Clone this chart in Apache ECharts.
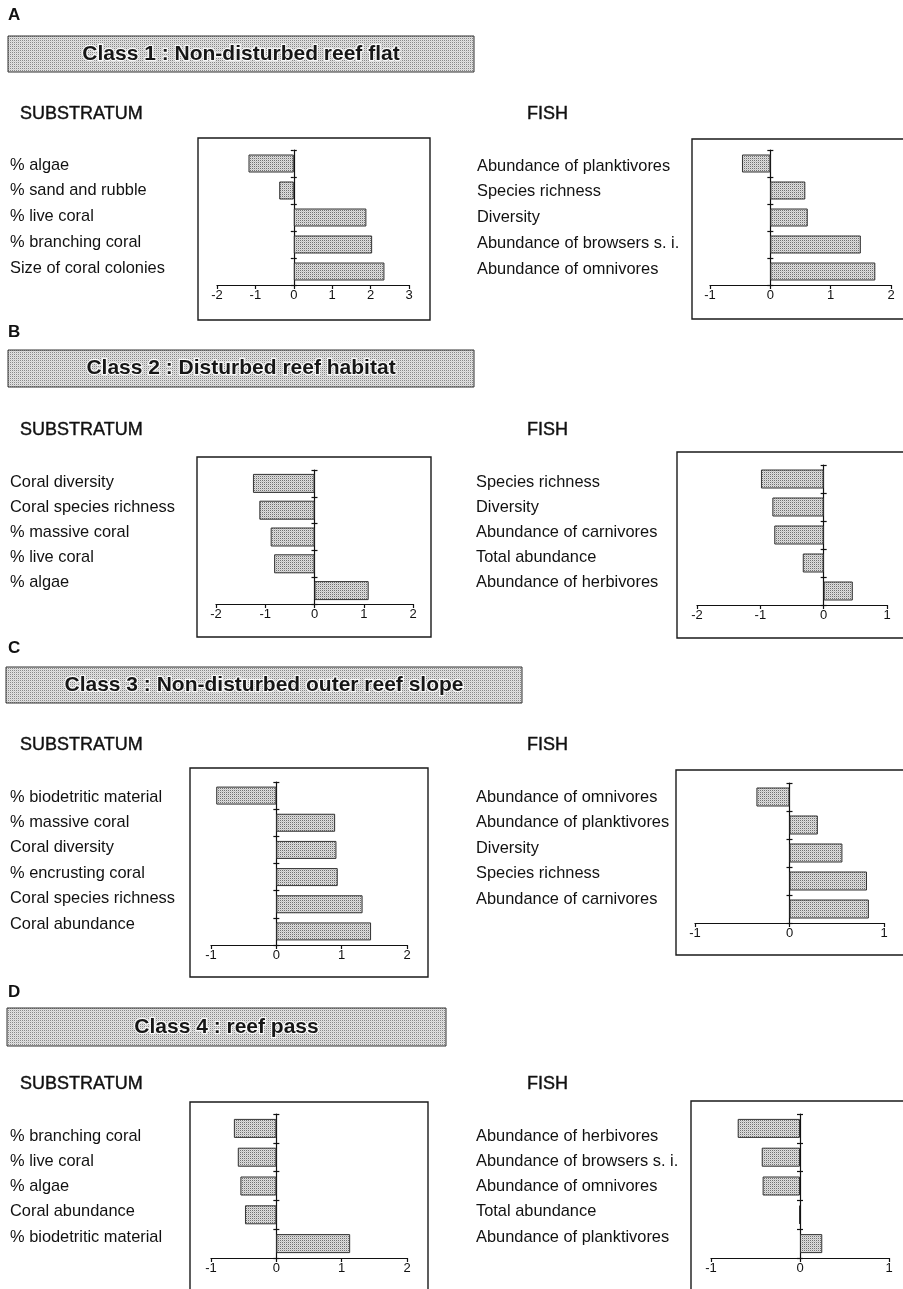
<!DOCTYPE html>
<html>
<head>
<meta charset="utf-8">
<script src="https://cdn.jsdelivr.net/npm/echarts@6/dist/echarts.min.js"></script>
<style>
  html, body { margin: 0; padding: 0; background: #fff; }
  #chart { width: 903px; height: 1289px; }
</style>
</head>
<body>
<div id="chart"></div>
<script>
// ---- Data: categories (top to bottom) and loadings for each habitat class ----
const subA = ['% algae', '% sand and rubble', '% live coral', '% branching coral', 'Size of coral colonies'];
const subAValues = [-1.18, -0.38, 1.89, 2.04, 2.36];
const fishA = ['Abundance of planktivores', 'Species richness', 'Diversity', 'Abundance of browsers s. i.', 'Abundance of omnivores'];
const fishAValues = [-0.47, 0.58, 0.62, 1.50, 1.74];

const subB = ['Coral diversity', 'Coral species richness', '% massive coral', '% live coral', '% algae'];
const subBValues = [-1.25, -1.12, -0.89, -0.82, 1.10];
const fishB = ['Species richness', 'Diversity', 'Abundance of carnivores', 'Total abundance', 'Abundance of herbivores'];
const fishBValues = [-0.99, -0.81, -0.78, -0.33, 0.46];

const subC = ['% biodetritic material', '% massive coral', 'Coral diversity', '% encrusting coral', 'Coral species richness', 'Coral abundance'];
const subCValues = [-0.92, 0.90, 0.92, 0.94, 1.32, 1.45];
const fishC = ['Abundance of omnivores', 'Abundance of planktivores', 'Diversity', 'Species richness', 'Abundance of carnivores'];
const fishCValues = [-0.35, 0.30, 0.56, 0.82, 0.84];

const subD = ['% branching coral', '% live coral', '% algae', 'Coral abundance', '% biodetritic material'];
const subDValues = [-0.65, -0.59, -0.55, -0.48, 1.13];
const fishD = ['Abundance of herbivores', 'Abundance of browsers s. i.', 'Abundance of omnivores', 'Total abundance', 'Abundance of planktivores'];
const fishDValues = [-0.70, -0.43, -0.42, -0.01, 0.25];

// Axis ranges (tick labels run from min to max in steps of 1)
const subRanges = [[-2, 3], [-2, 2], [-1, 2], [-1, 2]];
const fishRanges = [[-1, 2], [-2, 1], [-1, 1], [-1, 1]];

const panelLetters = ['A', 'B', 'C', 'D'];
const classTitles = [
  'Class 1 : Non-disturbed reef flat',
  'Class 2 : Disturbed reef habitat',
  'Class 3 : Non-disturbed outer reef slope',
  'Class 4 : reef pass'
];
const sideTitles = ['SUBSTRATUM', 'FISH'];

// ---- Layout (pixels) ----
const FONT = '"Liberation Sans", Arial, Helvetica, sans-serif';
const INK = '#111';
const rows = [
  { letterY: 16, banner: [8, 36, 466, 36], headY: 114,
    sub:  { box: [198, 138, 430, 320], plot: [217, 150, 409, 285], lab: [10, 165, 25.75], barW: 18 },
    fish: { box: [692, 139, 912, 319], plot: [710, 150, 891, 285], lab: [477, 166, 25.75], barW: 18 } },
  { letterY: 333, banner: [8, 350, 466, 37], headY: 430,
    sub:  { box: [197, 457, 431, 637], plot: [216, 470, 413, 604], lab: [10, 482, 25], barW: 19 },
    fish: { box: [677, 452, 912, 638], plot: [697, 465, 887, 605], lab: [476, 482, 25], barW: 19 } },
  { letterY: 649, banner: [6, 667, 516, 36], headY: 745,
    sub:  { box: [190, 768, 428, 977], plot: [211, 782, 407, 945], lab: [10, 797, 25.4], barW: 18 },
    fish: { box: [676, 770, 912, 955], plot: [695, 783, 884, 923], lab: [476, 797, 25.5], barW: 19 } },
  { letterY: 993, banner: [7, 1008, 439, 38], headY: 1084,
    sub:  { box: [190, 1102, 428, 1300], plot: [211, 1114, 407, 1258], lab: [10, 1136, 25.25], barW: 19 },
    fish: { box: [691, 1101, 912, 1300], plot: [711, 1114, 889, 1258], lab: [476, 1136, 25.25], barW: 19 } }
];
const headX = [20, 527];

const panelData = [
  [[subA, subAValues], [fishA, fishAValues]],
  [[subB, subBValues], [fishB, fishBValues]],
  [[subC, subCValues], [fishC, fishCValues]],
  [[subD, subDValues], [fishD, fishDValues]]
];

// ---- Stipple fills ----
function stipple(size, bg, dots) {
  const c = document.createElement('canvas');
  c.width = size; c.height = size;
  const ctx = c.getContext('2d');
  ctx.fillStyle = bg;
  ctx.fillRect(0, 0, size, size);
  dots.forEach(function (d) { ctx.fillStyle = d[2]; ctx.fillRect(d[0], d[1], 1, 1); });
  return c;
}
const barFill = { image: stipple(2, '#dedede', [[0, 0, '#707070'], [1, 1, '#c4c4c4']]), repeat: 'repeat' };
const bannerFill = { image: stipple(2, '#e2e2e2', [[0, 0, '#888888'], [1, 1, '#d0d0d0']]), repeat: 'repeat' };

const grids = [], xAxes = [], yAxes = [], series = [], graphics = [];
const lineStyle = { color: INK, width: 1.2 };

function addPanel(cats, vals, range, L) {
  // plotting grid: value axis along the bottom, zero line with category ticks
  const g = grids.length;
  grids.push({ left: L.plot[0], top: L.plot[1], width: L.plot[2] - L.plot[0], height: L.plot[3] - L.plot[1] });
  const xi = xAxes.length;
  xAxes.push({
    type: 'value', gridIndex: g, min: range[0], max: range[1], interval: 1,
    splitLine: { show: false },
    axisLine: { show: true, onZero: false, lineStyle: lineStyle },
    axisTick: { show: true, length: 4, lineStyle: lineStyle },
    axisLabel: { margin: 4, fontSize: 13, color: INK, fontFamily: FONT }
  });
  const yi = yAxes.length;
  yAxes.push({
    type: 'category', gridIndex: g, data: cats, inverse: true, position: 'left',
    axisLine: { show: true, onZero: true, onZeroAxisIndex: xi, lineStyle: lineStyle },
    axisTick: { show: true, length: 3, lineStyle: lineStyle },
    axisLabel: { show: false }, splitLine: { show: false }
  });
  yAxes.push({
    type: 'category', gridIndex: g, data: cats, inverse: true, position: 'right',
    axisLine: { show: false, onZero: true, onZeroAxisIndex: xi },
    axisTick: { show: true, length: 3, lineStyle: lineStyle },
    axisLabel: { show: false }, splitLine: { show: false }
  });
  series.push({
    type: 'bar', xAxisIndex: xi, yAxisIndex: yi, data: vals, barWidth: L.barW, silent: true,
    itemStyle: { color: barFill, borderColor: '#333', borderWidth: 1 }
  });

  // label grid: category names set left of the framed plot
  const g2 = grids.length;
  const n = cats.length;
  grids.push({ left: L.lab[0], top: L.lab[1] - L.lab[2] / 2, width: 150, height: n * L.lab[2] });
  xAxes.push({ type: 'value', gridIndex: g2, show: false, min: 0, max: 1 });
  yAxes.push({
    type: 'category', gridIndex: g2, data: cats, inverse: true, position: 'left',
    axisLine: { show: false, onZero: false }, axisTick: { show: false }, splitLine: { show: false },
    axisLabel: { align: 'left', margin: 0, fontSize: 16.4, color: INK, fontFamily: FONT }
  });

  // frame around the plot
  graphics.push({
    type: 'rect', z: -10,
    shape: { x: L.box[0], y: L.box[1], width: L.box[2] - L.box[0], height: L.box[3] - L.box[1] },
    style: { fill: 'none', stroke: '#1a1a1a', lineWidth: 1.4 }
  });
}

rows.forEach(function (r, i) {
  addPanel(panelData[i][0][0], panelData[i][0][1], subRanges[i], r.sub);
  addPanel(panelData[i][1][0], panelData[i][1][1], fishRanges[i], r.fish);

  graphics.push({
    type: 'text', left: 8, top: r.letterY - 9,
    style: { text: panelLetters[i], font: 'bold 17px ' + FONT, fill: INK }
  });
  graphics.push({
    type: 'rect', z: -5,
    shape: { x: r.banner[0], y: r.banner[1], width: r.banner[2], height: r.banner[3] },
    style: { fill: bannerFill, stroke: '#333', lineWidth: 1 }
  });
  graphics.push({
    type: 'text', x: r.banner[0] + r.banner[2] / 2, y: r.banner[1] + r.banner[3] / 2,
    style: {
      text: classTitles[i], font: 'bold 21px ' + FONT, fill: '#161616',
      stroke: 'rgba(255,255,255,0.85)', lineWidth: 2.5,
      align: 'center', verticalAlign: 'middle'
    }
  });
  sideTitles.forEach(function (t, k) {
    graphics.push({
      type: 'text', x: headX[k], y: r.headY,
      style: {
        text: t, font: '18px ' + FONT, fill: INK, stroke: INK, lineWidth: 0.4,
        align: 'left', verticalAlign: 'middle'
      }
    });
  });
});

const chart = echarts.init(document.getElementById('chart'), null, { renderer: 'canvas' });
chart.setOption({
  animation: false,
  backgroundColor: '#fff',
  grid: grids,
  xAxis: xAxes,
  yAxis: yAxes,
  series: series,
  graphic: graphics
});
</script>
</body>
</html>
